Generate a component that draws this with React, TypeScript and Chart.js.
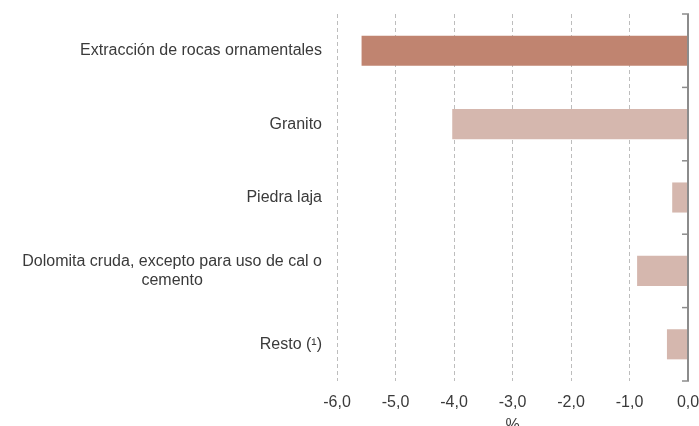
import React, { useEffect, useRef } from "react";
import { Chart, registerables } from "chart.js";

Chart.register(...registerables);

const categories: (string | string[])[] = [
  "Extracción de rocas ornamentales",
  "Granito",
  "Piedra laja",
  ["Dolomita cruda, excepto para uso de cal o", "cemento"],
  "Resto (¹)",
];
const values: number[] = [-5.58, -4.03, -0.27, -0.87, -0.36];
const xMin = -6;
const xMax = 0;
const xStep = 1;
const axisTitle = "%";

const FONT = '"Liberation Sans", Arial, Helvetica, sans-serif';
const DARK = "#C08470";
const LIGHT = "#D5B7AE";
const TEXT = "#3a3a3a";

export default function App() {
  const ref = useRef<HTMLCanvasElement | null>(null);

  useEffect(() => {
    document.body.style.margin = "0";
    const canvas = ref.current;
    if (!canvas) return;

    const axisPlugin = {
      id: "zeroAxisAndLabels",
      afterDatasetsDraw(chart: any) {
        const { ctx, chartArea, scales } = chart;
        const x = scales.x;
        const y = scales.y;
        const x0 = x.getPixelForValue(0);
        ctx.save();
        ctx.strokeStyle = "#8c8c8c";
        ctx.lineWidth = 2;
        ctx.beginPath();
        ctx.moveTo(x0, chartArea.top);
        ctx.lineTo(x0, chartArea.bottom);
        ctx.stroke();
        const n = categories.length;
        const bounds: number[] = [chartArea.top];
        for (let i = 0; i < n - 1; i++) {
          bounds.push((y.getPixelForValue(i) + y.getPixelForValue(i + 1)) / 2);
        }
        bounds.push(chartArea.bottom);
        ctx.lineWidth = 1.5;
        for (const b of bounds) {
          ctx.beginPath();
          ctx.moveTo(x0 - 6, b);
          ctx.lineTo(x0 + 1, b);
          ctx.stroke();
        }
        // category labels
        ctx.fillStyle = TEXT;
        ctx.font = `16px ${FONT}`;
        ctx.textBaseline = "middle";
        ctx.textAlign = "center";
        const right = chartArea.left - 15;
        const lh = 19;
        categories.forEach((c, i) => {
          const lines = Array.isArray(c) ? c : [c];
          const w = Math.max(...lines.map((l) => ctx.measureText(l).width));
          const cx = right - w / 2;
          const cy = y.getPixelForValue(i);
          lines.forEach((l, j) => {
            ctx.fillText(l, cx, cy + (j - (lines.length - 1) / 2) * lh);
          });
        });
        ctx.restore();
      },
    };

    const chart = new Chart(canvas, {
      type: "bar",
      data: {
        labels: categories.map((c) => (Array.isArray(c) ? c.join(" ") : c)),
        datasets: [
          {
            data: values,
            backgroundColor: values.map((_, i) => (i === 0 ? DARK : LIGHT)),
            barPercentage: 0.41,
            categoryPercentage: 1,
          },
        ],
      },
      options: {
        indexAxis: "y",
        animation: false,
        responsive: false,
        maintainAspectRatio: false,
        layout: { padding: { left: 337, top: 14, right: 11, bottom: 0 } },
        plugins: {
          legend: { display: false },
          tooltip: { enabled: false },
        },
        scales: {
          y: { display: false, offset: true },
          x: {
            min: xMin,
            max: xMax,
            ticks: {
              stepSize: xStep,
              callback: (v: any) => Number(v).toFixed(1).replace(".", ","),
              font: { size: 16, family: FONT },
              color: TEXT,
              padding: 12,
            },
            grid: { color: "#bdbdbd", lineWidth: 1, drawTicks: false },
            border: { display: false, dash: [4, 3] },
            title: {
              display: true,
              text: axisTitle,
              font: { size: 16, family: FONT },
              color: TEXT,
              padding: { top: 0, bottom: -9 },
            },
            afterFit: (s: any) => {
              s.height = 45;
              s.paddingLeft = 0;
              s.paddingRight = 0;
            },
          },
        },
      } as any,
      plugins: [axisPlugin],
    });

    return () => chart.destroy();
  }, []);

  return (
    <div style={{ width: 699, height: 426 }}>
      <canvas ref={ref} width={699} height={426} style={{ display: "block" }} />
    </div>
  );
}
